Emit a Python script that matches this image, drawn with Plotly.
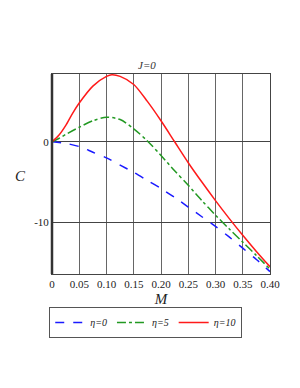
import plotly.graph_objects as go

m_blue = [0, 0.025, 0.05, 0.075, 0.1, 0.125, 0.15, 0.175, 0.2, 0.225, 0.25, 0.275, 0.3, 0.325, 0.35, 0.375, 0.4]
c_eta0 = [0, -0.2, -0.6, -1.3, -2.0, -2.9, -3.8, -4.8, -5.8, -6.9, -8.1, -9.3, -10.5, -11.8, -13.2, -14.6, -16.1]

m_green = [0, 0.0125, 0.025, 0.05, 0.075, 0.1, 0.125, 0.15, 0.175, 0.2, 0.225, 0.25, 0.275, 0.3, 0.325, 0.35, 0.375, 0.4]
c_eta5 = [0, 0.4, 0.9, 1.8, 2.6, 3.05, 2.75, 1.6, 0.1, -1.7, -3.6, -5.4, -7.3, -9.1, -10.8, -12.45, -14.1, -15.8]

m_red = [0, 0.0125, 0.025, 0.0375, 0.05, 0.075, 0.1, 0.11, 0.125, 0.15, 0.175, 0.2, 0.225, 0.25, 0.275, 0.3, 0.325, 0.35, 0.375, 0.4]
c_eta10 = [0, 0.8, 2.0, 3.5, 4.8, 6.9, 8.1, 8.3, 8.1, 7.1, 5.0, 2.6, 0.0, -2.6, -5.0, -7.3, -9.5, -11.6, -13.6, -15.5]

x_ticks = [0, 0.05, 0.10, 0.15, 0.20, 0.25, 0.30, 0.35, 0.40]
x_ticktext = ["0", "0.05", "0.10", "0.15", "0.20", "0.25", "0.30", "0.35", "0.40"]
y_ticks = [0, -10]
y_ticktext = ["0", "-10"]

serif = "Liberation Serif, Times New Roman, serif"

fig = go.Figure()
fig.add_trace(go.Scatter(x=m_blue, y=c_eta0, mode="lines", name="<i>η=0</i>",
                         line=dict(color="#1a1aff", width=1.5, dash="dash", shape="spline", smoothing=0.8)))
fig.add_trace(go.Scatter(x=m_green, y=c_eta5, mode="lines", name="<i>η=5</i>",
                         line=dict(color="#229922", width=1.5, dash="dashdot", shape="spline", smoothing=0.8)))
fig.add_trace(go.Scatter(x=m_red, y=c_eta10, mode="lines", name="<i>η=10</i>",
                         line=dict(color="#ff1a1a", width=1.5, shape="spline", smoothing=0.8)))

fig.update_layout(
    width=300, height=388,
    margin=dict(l=52, r=30, t=74, b=114),
    paper_bgcolor="white", plot_bgcolor="white",
    font=dict(family=serif, size=11, color="#222"),
    showlegend=True,
    legend=dict(orientation="h", x=0.43, xanchor="center", y=-0.165, yanchor="top",
                bordercolor="#555", borderwidth=1, font=dict(size=10, family=serif, color="#222"),
                itemwidth=30, tracegroupgap=0),
    annotations=[
        dict(text="<i>J=0</i>", x=0.437, y=1.0, xref="paper", yref="paper",
             xanchor="center", yanchor="bottom", yshift=1, showarrow=False,
             font=dict(size=11, family=serif, color="#333")),
        dict(text="<i>C</i>", x=-0.145, y=(274 - 176) / 200, xref="paper", yref="paper",
             xanchor="center", yanchor="middle", showarrow=False,
             font=dict(size=15, family=serif, color="#222")),
    ],
)

fig.update_xaxes(range=[0, 0.4], tickvals=x_ticks, ticktext=x_ticktext,
                 showgrid=True, gridcolor="#666", gridwidth=1,
                 showline=True, linecolor="#444", linewidth=1, mirror=True,
                 zeroline=False, ticks="", tickfont=dict(size=11, family=serif),
                 title=dict(text="<i>M</i>", font=dict(size=15, family=serif), standoff=4))
fig.update_yaxes(range=[-16.4, 8.4], tickvals=y_ticks, ticktext=y_ticktext,
                 showgrid=True, gridcolor="#444", gridwidth=1,
                 showline=True, linecolor="#444", linewidth=1, mirror=True,
                 zeroline=False, ticks="", tickfont=dict(size=11, family=serif))
fig.add_shape(type="line", xref="paper", yref="paper", x0=0, x1=0, y0=0, y1=1,
              line=dict(color="#333", width=2.5))

fig.write_html("out.html", config={"displayModeBar": False},
               post_script="document.body.style.margin='0';")
